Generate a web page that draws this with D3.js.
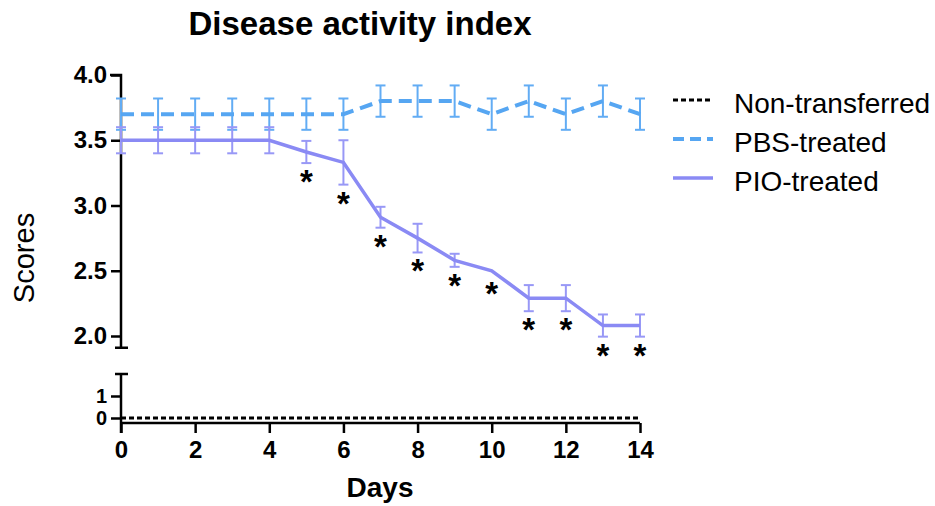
<!DOCTYPE html>
<html>
<head>
<meta charset="utf-8">
<script src="https://cdn.jsdelivr.net/npm/d3@7"></script>
<style>
  body { margin: 0; background: #fff; }
  svg { display: block; font-family: "Liberation Sans", Arial, sans-serif; }
</style>
</head>
<body>
<svg id="chart" width="935" height="506"></svg>
<script>
// days on the x axis
var days = [0, 1, 2, 3, 4, 5, 6, 7, 8, 9, 10, 11, 12, 13, 14];
// PBS-treated mean and error
var pbsMean = [3.7, 3.7, 3.7, 3.7, 3.7, 3.7, 3.7, 3.8, 3.8, 3.8, 3.7, 3.8, 3.7, 3.8, 3.7];
var pbsErr  = [0.12, 0.12, 0.12, 0.12, 0.12, 0.12, 0.12, 0.12, 0.12, 0.12, 0.12, 0.12, 0.12, 0.12, 0.12];
// PIO-treated mean and error
var pioMean = [3.5, 3.5, 3.5, 3.5, 3.5, 3.41, 3.33, 2.91, 2.75, 2.58, 2.5, 2.29, 2.29, 2.08, 2.08];
var pioErr  = [0.1, 0.1, 0.1, 0.1, 0.1, 0.085, 0.17, 0.08, 0.11, 0.05, 0, 0.1, 0.1, 0.085, 0.085];
// Non-transferred
var nonMean = [0, 0, 0, 0, 0, 0, 0, 0, 0, 0, 0, 0, 0, 0, 0];
// significance marks
var starDays = [5, 6, 7, 8, 9, 10, 11, 12, 13, 14];

var xTicks = [0, 2, 4, 6, 8, 10, 12, 14];
var yTopTicks = [2.0, 2.5, 3.0, 3.5, 4.0];
var yBotTicks = [0, 1];
var seriesNames = ["Non-transferred", "PBS-treated", "PIO-treated"];

var pbsColor = "#56a6f2", pioColor = "#8a8af4";

var svg = d3.select("#chart");

var x = d3.scaleLinear().domain([0, 14]).range([121, 640]);
var yTop = d3.scaleLinear().domain([2, 4]).range([336, 75]);
var yBot = d3.scaleLinear().domain([0, 1]).range([418, 396]);

// ---- axes
var gTop = svg.append("g").attr("transform", "translate(121,0)")
  .call(d3.axisLeft(yTop).tickValues(yTopTicks).tickFormat(d3.format(".1f"))
    .tickSizeInner(10).tickSizeOuter(0).tickPadding(4));
gTop.select(".domain").remove();
var gBot = svg.append("g").attr("transform", "translate(121,0)")
  .call(d3.axisLeft(yBot).tickValues(yBotTicks).tickFormat(d3.format("d"))
    .tickSizeInner(10).tickSizeOuter(0).tickPadding(4));
gBot.select(".domain").remove();
var gX = svg.append("g").attr("transform", "translate(0,423)")
  .call(d3.axisBottom(x).tickValues(xTicks).tickSizeInner(10).tickSizeOuter(0).tickPadding(8));
gX.select(".domain").remove();

[gTop, gBot, gX].forEach(function(g) {
  g.attr("font-size", 24).attr("font-family", "Liberation Sans, Arial, sans-serif");
  g.selectAll("text").attr("font-weight", "bold").attr("fill", "#000");
  g.selectAll("line").attr("stroke", "#000").attr("stroke-width", 2.5);
});
gBot.attr("font-size", 20);

// broken y axis: two segments with end caps
var ax = svg.append("g").attr("stroke", "#000").attr("stroke-width", 2.5).attr("fill", "none");
ax.append("path").attr("d", "M110," + yTop(4) + "H" + x(0) + "V" + yTop(1.91));
ax.append("line").attr("x1", x(0) - 6).attr("x2", x(0) + 7).attr("y1", yTop(1.91)).attr("y2", yTop(1.91));
ax.append("line").attr("x1", x(0)).attr("x2", x(0)).attr("y1", yBot(2)).attr("y2", 433);
ax.append("line").attr("x1", x(0) - 6).attr("x2", x(0) + 7).attr("y1", yBot(2)).attr("y2", yBot(2));
ax.append("line").attr("x1", x(0)).attr("x2", x(14)).attr("y1", 423).attr("y2", 423);

// ---- series
var line = function(ys, sc) {
  return d3.line().x(function(d) { return x(d); }).y(function(d, i) { return sc(ys[i]); })(days);
};

function errorBars(mean, err, color) {
  var g = svg.append("g").attr("stroke", color).attr("stroke-width", 2).attr("fill", "none");
  days.forEach(function(d, i) {
    if (!err[i]) return;
    var y0 = yTop(mean[i] - err[i]), y1 = yTop(mean[i] + err[i]);
    g.append("line").attr("x1", x(d)).attr("x2", x(d)).attr("y1", y0).attr("y2", y1);
    g.append("line").attr("x1", x(d) - 5).attr("x2", x(d) + 5).attr("y1", y0).attr("y2", y0);
    g.append("line").attr("x1", x(d) - 5).attr("x2", x(d) + 5).attr("y1", y1).attr("y2", y1);
  });
}

errorBars(pbsMean, pbsErr, "#62acf4");
errorBars(pioMean, pioErr, "#9898f6");

svg.append("path").attr("d", line(pbsMean, yTop)).attr("fill", "none")
  .attr("stroke", pbsColor).attr("stroke-width", 4).attr("stroke-dasharray", "13,7");
svg.append("path").attr("d", line(pioMean, yTop)).attr("fill", "none")
  .attr("stroke", pioColor).attr("stroke-width", 3.5);
svg.append("path").attr("d", line(nonMean, yBot)).attr("fill", "none")
  .attr("stroke", "#000").attr("stroke-width", 3).attr("stroke-dasharray", "5,3");

// asterisks under the PIO points
svg.selectAll(".star").data(starDays).enter().append("text")
  .attr("class", "star")
  .attr("x", function(d) { return x(d); })
  .attr("y", function(d) {
    var i = days.indexOf(d);
    return yTop(pioMean[i] - pioErr[i]) + (pioErr[i] ? 12 : 16) + 18;
  })
  .attr("text-anchor", "middle").attr("font-size", 33).attr("font-weight", "bold")
  .text("*");

// ---- titles
svg.append("text").attr("x", 360).attr("y", 35).attr("text-anchor", "middle")
  .attr("font-size", 33).attr("font-weight", "bold").text("Disease activity index");
svg.append("text").attr("transform", "translate(34,258) rotate(-90)").attr("text-anchor", "middle")
  .attr("font-size", 29).text("Scores");
svg.append("text").attr("x", 380).attr("y", 497).attr("text-anchor", "middle")
  .attr("font-size", 28).attr("font-weight", "bold").text("Days");

// ---- legend
var legStyles = [
  { color: "#000", width: 3, dash: "5,3" },
  { color: pbsColor, width: 4, dash: "11,6" },
  { color: pioColor, width: 3.5, dash: null }
];
var leg = svg.append("g").selectAll("g").data(seriesNames).enter().append("g")
  .attr("transform", function(d, i) { return "translate(673," + (100 + i * 39) + ")"; });
leg.append("line").attr("x1", 0).attr("x2", 40).attr("y1", 0).attr("y2", 0)
  .attr("stroke", function(d, i) { return legStyles[i].color; })
  .attr("stroke-width", function(d, i) { return legStyles[i].width; })
  .attr("stroke-dasharray", function(d, i) { return legStyles[i].dash; });
leg.append("text").attr("x", 61).attr("y", 13).attr("font-size", 28).text(function(d) { return d; });
</script>
</body>
</html>
